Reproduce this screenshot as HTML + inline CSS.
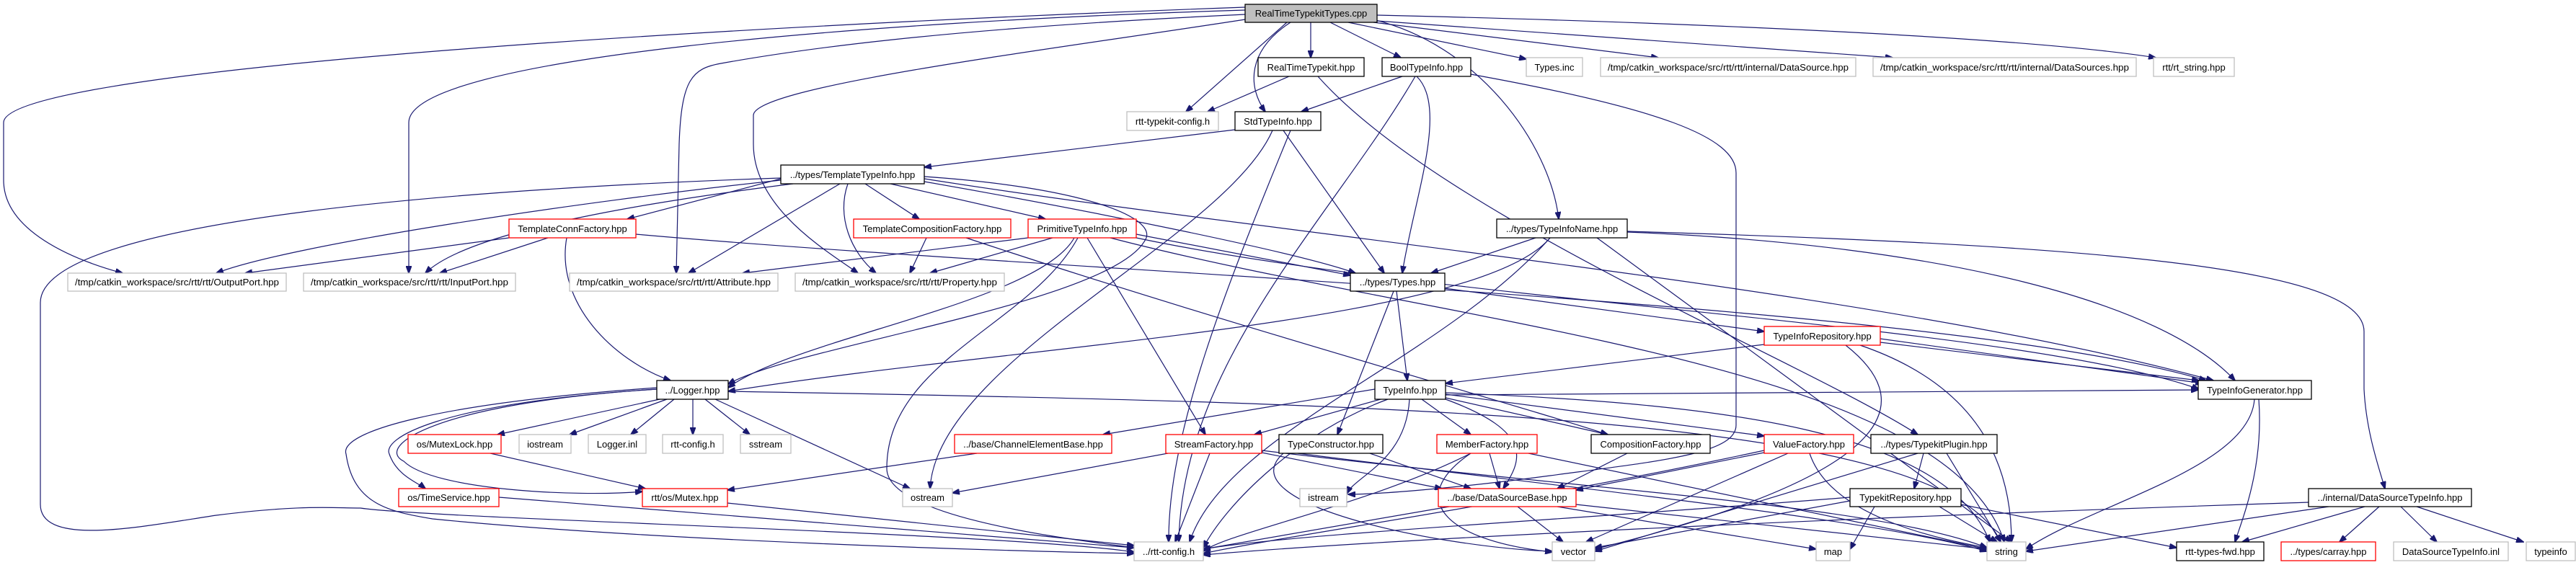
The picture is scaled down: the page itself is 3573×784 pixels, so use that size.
<!DOCTYPE html>
<html><head><meta charset="utf-8"><style>
html,body{margin:0;padding:0;background:#fff}
svg{display:block}
text{font-family:"Liberation Sans",Arial,sans-serif;font-size:13px;fill:#000}
.e{fill:none;stroke:#191970;stroke-width:1.2;marker-end:url(#a)}
.b{fill:#fff;stroke:#000;stroke-width:1.3}
.r{fill:#fff;stroke:#ff0000;stroke-width:1.3}
.g{fill:#fff;stroke:#bfbfbf;stroke-width:1.3}
</style></head><body>
<svg width="3573" height="784" viewBox="0 0 3573 784" xmlns="http://www.w3.org/2000/svg">
<defs><marker id="a" markerWidth="11" markerHeight="8" refX="10" refY="4" orient="auto" markerUnits="userSpaceOnUse"><path d="M0,0 L11,4 L0,8 z" fill="#191970" stroke="#191970"/></marker></defs>
<g>
<path class="e" d="M1727,10 C900,40 5,100 5,170 L5,250 C5,320 100,360 170,379"/>
<path class="e" d="M1727,14 C1200,30 567,80 567,170 L567,379"/>
<path class="e" d="M1727,20 C1300,40 1100,70 1000,88 C960,95 945,110 942,200 L938,379"/>
<path class="e" d="M1727,27 C1450,70 1045,120 1045,160 L1045,200 C1045,290 1150,350 1190,379"/>
<path class="e" d="M1785,31 L1645,155"/>
<path class="e" d="M1818,31 L1818,80"/>
<path class="e" d="M1790,31 C1730,70 1730,120 1755,155"/>
<path class="e" d="M1845,31 L1943,80"/>
<path class="e" d="M1870,31 L2117,82"/>
<path class="e" d="M1905,31 L2300,80"/>
<path class="e" d="M1910,29 L2625,80"/>
<path class="e" d="M1910,21 C2300,30 2800,50 2990,80"/>
<path class="e" d="M1900,26 C2050,60 2150,200 2162,304"/>
<path class="e" d="M1788,106 L1675,155"/>
<path class="e" d="M1828,106 C2000,300 2500,500 2660,603"/>
<path class="e" d="M1945,106 L1805,155"/>
<path class="e" d="M1965,106 C2010,150 1960,280 1945,379"/>
<path class="e" d="M1963,106 C1850,300 1640,500 1635,752"/>
<path class="e" d="M2040,103 C2300,150 2408,190 2408,240 L2408,590 C2408,630 2300,640 2150,660 C2000,680 1900,686 1870,686"/>
<path class="e" d="M1713,180 L1282,232"/>
<path class="e" d="M1780,181 L1920,379"/>
<path class="e" d="M1765,181 C1700,330 1300,500 1290,678"/>
<path class="e" d="M1790,181 C1700,400 1620,600 1621,752"/>
<path class="e" d="M1083,250 C800,280 400,340 300,379"/>
<path class="e" d="M1100,255 C900,280 650,320 590,379"/>
<path class="e" d="M1165,255 L955,379"/>
<path class="e" d="M1176,255 C1160,300 1180,350 1215,379"/>
<path class="e" d="M1083,248 L870,304"/>
<path class="e" d="M1200,255 L1275,304"/>
<path class="e" d="M1235,255 L1450,304"/>
<path class="e" d="M1282,252 C1500,290 1800,350 1880,379"/>
<path class="e" d="M1282,245 C1500,260 1600,300 1590,330 C1550,420 1100,480 1010,533"/>
<path class="e" d="M1282,248 C1800,330 2600,400 3070,528"/>
<path class="e" d="M1083,247 C700,260 56,300 56,420 L56,700 C56,760 200,730 300,715 C420,700 460,705 500,705 C600,720 1400,740 1573,766"/>
<path class="e" d="M706,330 L340,379"/>
<path class="e" d="M760,330 L610,379"/>
<path class="e" d="M786,330 C770,420 850,500 930,528"/>
<path class="e" d="M882,325 C1500,380 2700,420 3060,528"/>
<path class="e" d="M1285,330 L1262,379"/>
<path class="e" d="M1340,330 C1700,450 2100,560 2230,603"/>
<path class="e" d="M1426,330 L1030,379"/>
<path class="e" d="M1460,330 L1290,379"/>
<path class="e" d="M1576,325 L1873,382"/>
<path class="e" d="M1576,330 C2000,420 2800,450 3050,540"/>
<path class="e" d="M1490,330 C1440,420 1100,470 1010,538"/>
<path class="e" d="M1508,330 L1672,603"/>
<path class="e" d="M1495,330 C1430,450 1230,500 1230,650 C1230,720 1500,750 1573,760"/>
<path class="e" d="M1540,330 C2000,450 2700,500 2780,752"/>
<path class="e" d="M2130,330 L1985,379"/>
<path class="e" d="M2150,330 C2050,450 1400,480 1010,543"/>
<path class="e" d="M2257,322 C2700,340 3000,420 3100,528"/>
<path class="e" d="M2257,321 C2900,340 3279,370 3279,460 L3279,540 C3282,600 3300,650 3308,678"/>
<path class="e" d="M2150,330 C2000,500 1700,600 1650,752"/>
<path class="e" d="M2215,330 L2790,752"/>
<path class="e" d="M1937,404 L1952,528"/>
<path class="e" d="M1933,404 L1855,603"/>
<path class="e" d="M2004,400 L2447,460"/>
<path class="e" d="M2447,478 L2005,532"/>
<path class="e" d="M2608,475 L3050,528"/>
<path class="e" d="M2608,470 L3055,532"/>
<path class="e" d="M2580,479 C2700,520 2790,600 2790,752"/>
<path class="e" d="M2560,479 C2650,550 2660,650 2212,762"/>
<path class="e" d="M1907,540 L1530,603"/>
<path class="e" d="M1915,554 L1740,603"/>
<path class="e" d="M1972,554 L2040,603"/>
<path class="e" d="M2005,552 L2230,603"/>
<path class="e" d="M2005,547 L2447,605"/>
<path class="e" d="M2005,554 C2130,600 2110,640 2085,678"/>
<path class="e" d="M1925,554 C1800,600 1700,700 1669,760"/>
<path class="e" d="M1955,554 C1950,640 1880,660 1868,685"/>
<path class="e" d="M2005,545 C2400,560 2700,600 2760,752"/>
<path class="e" d="M2005,548 L3049,541"/>
<path class="e" d="M1010,543 C2000,560 2700,580 2775,752"/>
<path class="e" d="M915,554 L690,603"/>
<path class="e" d="M925,554 L790,603"/>
<path class="e" d="M935,554 L875,603"/>
<path class="e" d="M961,554 L961,603"/>
<path class="e" d="M978,554 L1040,603"/>
<path class="e" d="M992,554 L1262,678"/>
<path class="e" d="M911,540 C600,560 520,620 560,640 C600,680 800,690 891,682"/>
<path class="e" d="M911,540 C600,560 530,610 540,630 C550,660 580,670 590,678"/>
<path class="e" d="M911,538 C600,560 470,600 480,630 C490,700 540,710 600,720 C900,750 1400,765 1573,768"/>
<path class="e" d="M680,629 L895,678"/>
<path class="e" d="M692,690 L1573,760"/>
<path class="e" d="M1009,698 L1573,757"/>
<path class="e" d="M1355,629 L1009,680"/>
<path class="e" d="M1620,629 L1321,684"/>
<path class="e" d="M1678,629 L1630,752"/>
<path class="e" d="M1750,628 L2000,678"/>
<path class="e" d="M1750,625 C2200,680 2600,700 2756,760"/>
<path class="e" d="M1900,629 L2040,678"/>
<path class="e" d="M1780,629 C1700,700 2000,760 2153,765"/>
<path class="e" d="M1800,629 C2200,680 2600,720 2756,765"/>
<path class="e" d="M2066,629 L2080,678"/>
<path class="e" d="M2040,629 C1950,690 2000,750 2153,766"/>
<path class="e" d="M2040,629 C1900,700 1700,740 1669,765"/>
<path class="e" d="M2120,629 L2756,762"/>
<path class="e" d="M2257,629 L2160,678"/>
<path class="e" d="M2447,628 L2186,680"/>
<path class="e" d="M2480,629 L2200,752"/>
<path class="e" d="M2510,629 C2540,720 2700,750 2756,760"/>
<path class="e" d="M2447,625 C2100,700 1800,740 1669,768"/>
<path class="e" d="M2668,629 L2655,678"/>
<path class="e" d="M2700,629 L2775,752"/>
<path class="e" d="M2660,629 L2212,765"/>
<path class="e" d="M2105,703 L2168,752"/>
<path class="e" d="M2160,703 L2519,762"/>
<path class="e" d="M2186,700 L2756,762"/>
<path class="e" d="M2010,703 L1669,762"/>
<path class="e" d="M2690,703 L2770,752"/>
<path class="e" d="M2720,700 L3019,760"/>
<path class="e" d="M2566,695 L2212,760"/>
<path class="e" d="M2600,703 L2566,762"/>
<path class="e" d="M2566,690 C2200,720 1800,740 1669,762"/>
<path class="e" d="M3280,703 L3110,752"/>
<path class="e" d="M3300,703 L3245,752"/>
<path class="e" d="M3330,703 L3380,752"/>
<path class="e" d="M3352,703 L3500,752"/>
<path class="e" d="M3230,703 L2810,765"/>
<path class="e" d="M3202,697 C2500,720 1900,750 1669,770"/>
<path class="e" d="M3127,554 C3120,650 2900,700 2810,762"/>
<path class="e" d="M3133,554 C3140,650 3110,720 3100,752"/>
</g>
<g>
<rect x="1727" y="6" width="183" height="25" fill="#bfbfbf" stroke="#000" stroke-width="1.3"/><text x="1818.5" y="23" text-anchor="middle">RealTimeTypekitTypes.cpp</text>
<rect class="b" x="1745" y="80" width="147" height="26"/><text x="1818.5" y="98" text-anchor="middle">RealTimeTypekit.hpp</text>
<rect class="b" x="1917" y="80" width="123" height="26"/><text x="1978.5" y="98" text-anchor="middle">BoolTypeInfo.hpp</text>
<rect class="g" x="2117" y="80" width="78" height="26"/><text x="2156" y="98" text-anchor="middle">Types.inc</text>
<rect class="g" x="2220" y="80" width="354" height="26"/><text x="2397" y="98" text-anchor="middle" textLength="334" lengthAdjust="spacingAndGlyphs">/tmp/catkin_workspace/src/rtt/rtt/internal/DataSource.hpp</text>
<rect class="g" x="2598" y="80" width="365" height="26"/><text x="2780.5" y="98" text-anchor="middle" textLength="345" lengthAdjust="spacingAndGlyphs">/tmp/catkin_workspace/src/rtt/rtt/internal/DataSources.hpp</text>
<rect class="g" x="2987" y="80" width="112" height="26"/><text x="3043" y="98" text-anchor="middle">rtt/rt_string.hpp</text>
<rect class="g" x="1563" y="155" width="127" height="26"/><text x="1626.5" y="173" text-anchor="middle">rtt-typekit-config.h</text>
<rect class="b" x="1713" y="155" width="119" height="26"/><text x="1772.5" y="173" text-anchor="middle">StdTypeInfo.hpp</text>
<rect class="b" x="1083" y="229" width="199" height="26"/><text x="1182.5" y="247" text-anchor="middle">../types/TemplateTypeInfo.hpp</text>
<rect class="r" x="706" y="304" width="176" height="26"/><text x="794" y="322" text-anchor="middle">TemplateConnFactory.hpp</text>
<rect class="r" x="1184" y="304" width="218" height="26"/><text x="1293" y="322" text-anchor="middle">TemplateCompositionFactory.hpp</text>
<rect class="r" x="1426" y="304" width="150" height="26"/><text x="1501" y="322" text-anchor="middle">PrimitiveTypeInfo.hpp</text>
<rect class="b" x="2076" y="304" width="181" height="26"/><text x="2166.5" y="322" text-anchor="middle">../types/TypeInfoName.hpp</text>
<rect class="g" x="94" y="379" width="303" height="25"/><text x="245.5" y="396" text-anchor="middle" textLength="283" lengthAdjust="spacingAndGlyphs">/tmp/catkin_workspace/src/rtt/rtt/OutputPort.hpp</text>
<rect class="g" x="421" y="379" width="294" height="25"/><text x="568" y="396" text-anchor="middle" textLength="274" lengthAdjust="spacingAndGlyphs">/tmp/catkin_workspace/src/rtt/rtt/InputPort.hpp</text>
<rect class="g" x="790" y="379" width="289" height="25"/><text x="934.5" y="396" text-anchor="middle" textLength="269" lengthAdjust="spacingAndGlyphs">/tmp/catkin_workspace/src/rtt/rtt/Attribute.hpp</text>
<rect class="g" x="1103" y="379" width="290" height="25"/><text x="1248" y="396" text-anchor="middle" textLength="270" lengthAdjust="spacingAndGlyphs">/tmp/catkin_workspace/src/rtt/rtt/Property.hpp</text>
<rect class="b" x="1873" y="379" width="131" height="25"/><text x="1938.5" y="396" text-anchor="middle">../types/Types.hpp</text>
<rect class="r" x="2447" y="453" width="161" height="26"/><text x="2527.5" y="471" text-anchor="middle">TypeInfoRepository.hpp</text>
<rect class="b" x="911" y="528" width="99" height="26"/><text x="960.5" y="546" text-anchor="middle">../Logger.hpp</text>
<rect class="b" x="1907" y="528" width="98" height="26"/><text x="1956" y="546" text-anchor="middle">TypeInfo.hpp</text>
<rect class="b" x="3049" y="528" width="157" height="26"/><text x="3127.5" y="546" text-anchor="middle">TypeInfoGenerator.hpp</text>
<rect class="r" x="566" y="603" width="129" height="26"/><text x="630.5" y="621" text-anchor="middle">os/MutexLock.hpp</text>
<rect class="g" x="720" y="603" width="72" height="26"/><text x="756" y="621" text-anchor="middle">iostream</text>
<rect class="g" x="816" y="603" width="80" height="26"/><text x="856" y="621" text-anchor="middle">Logger.inl</text>
<rect class="g" x="919" y="603" width="84" height="26"/><text x="961" y="621" text-anchor="middle">rtt-config.h</text>
<rect class="g" x="1027" y="603" width="70" height="26"/><text x="1062" y="621" text-anchor="middle">sstream</text>
<rect class="r" x="1324" y="603" width="218" height="26"/><text x="1433" y="621" text-anchor="middle">../base/ChannelElementBase.hpp</text>
<rect class="r" x="1617" y="603" width="133" height="26"/><text x="1683.5" y="621" text-anchor="middle">StreamFactory.hpp</text>
<rect class="b" x="1774" y="603" width="144" height="26"/><text x="1846" y="621" text-anchor="middle">TypeConstructor.hpp</text>
<rect class="r" x="1993" y="603" width="139" height="26"/><text x="2062.5" y="621" text-anchor="middle">MemberFactory.hpp</text>
<rect class="b" x="2207" y="603" width="165" height="26"/><text x="2289.5" y="621" text-anchor="middle">CompositionFactory.hpp</text>
<rect class="r" x="2447" y="603" width="124" height="26"/><text x="2509" y="621" text-anchor="middle">ValueFactory.hpp</text>
<rect class="b" x="2595" y="603" width="175" height="26"/><text x="2682.5" y="621" text-anchor="middle">../types/TypekitPlugin.hpp</text>
<rect class="r" x="553" y="678" width="139" height="25"/><text x="622.5" y="695" text-anchor="middle">os/TimeService.hpp</text>
<rect class="r" x="891" y="678" width="118" height="25"/><text x="950" y="695" text-anchor="middle">rtt/os/Mutex.hpp</text>
<rect class="g" x="1252" y="678" width="69" height="25"/><text x="1286.5" y="695" text-anchor="middle">ostream</text>
<rect class="g" x="1803" y="678" width="65" height="25"/><text x="1835.5" y="695" text-anchor="middle">istream</text>
<rect class="r" x="1995" y="678" width="191" height="25"/><text x="2090.5" y="695" text-anchor="middle">../base/DataSourceBase.hpp</text>
<rect class="b" x="2566" y="678" width="154" height="25"/><text x="2643" y="695" text-anchor="middle">TypekitRepository.hpp</text>
<rect class="b" x="3202" y="678" width="226" height="25"/><text x="3315" y="695" text-anchor="middle">../internal/DataSourceTypeInfo.hpp</text>
<rect class="g" x="1573" y="752" width="96" height="26"/><text x="1621" y="770" text-anchor="middle">../rtt-config.h</text>
<rect class="g" x="2153" y="752" width="59" height="26"/><text x="2182.5" y="770" text-anchor="middle">vector</text>
<rect class="g" x="2519" y="752" width="47" height="26"/><text x="2542.5" y="770" text-anchor="middle">map</text>
<rect class="g" x="2756" y="752" width="54" height="26"/><text x="2783" y="770" text-anchor="middle">string</text>
<rect class="b" x="3019" y="752" width="121" height="26"/><text x="3079.5" y="770" text-anchor="middle">rtt-types-fwd.hpp</text>
<rect class="r" x="3164" y="752" width="131" height="26"/><text x="3229.5" y="770" text-anchor="middle">../types/carray.hpp</text>
<rect class="g" x="3320" y="752" width="159" height="26"/><text x="3399.5" y="770" text-anchor="middle">DataSourceTypeInfo.inl</text>
<rect class="g" x="3504" y="752" width="68" height="26"/><text x="3538" y="770" text-anchor="middle">typeinfo</text>
</g>
</svg>
</body></html>
